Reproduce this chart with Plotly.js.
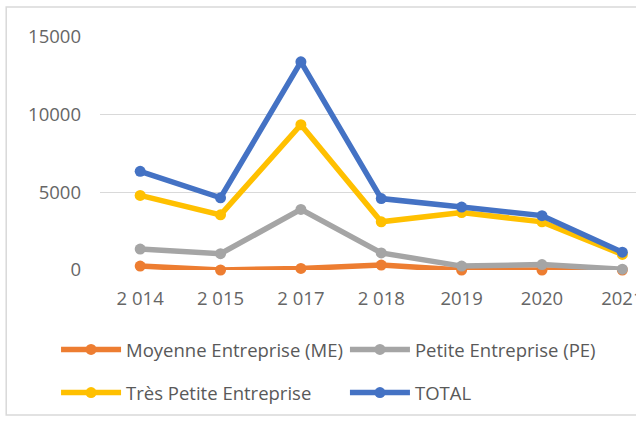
<!DOCTYPE html>
<html>
<head>
<meta charset="utf-8">
<script src="https://cdn.plot.ly/plotly-3.0.1.min.js"></script>
<style>
html,body{margin:0;padding:0;background:#fff;}
#chart{width:636px;height:426px;}
</style>
</head>
<body>
<div id="chart"></div>
<script>
var years = ["2 014", "2 015", "2 017", "2 018", "2019", "2020", "2021"];
var moyenne = [250, 0, 100, 320, 0, 0, 0];
var petite = [1350, 1050, 3900, 1100, 250, 350, 50];
var tresPetite = [4800, 3550, 9350, 3100, 3700, 3100, 1000];
var total = [6350, 4650, 13400, 4600, 4050, 3500, 1150];
var yTicks = [0, 5000, 10000, 15000];

var names = ["Moyenne Entreprise (ME)", "Petite Entreprise (PE)", "Très Petite Entreprise", "TOTAL"];
var colors = ["#ED7D31", "#A5A5A5", "#FFC000", "#4472C4"];
var series = [moyenne, petite, tresPetite, total];
var legends = ["legend", "legend2", "legend3", "legend4"];

var traces = series.map(function (vals, i) {
  return {
    type: "scatter",
    mode: "lines+markers",
    x: years,
    y: vals,
    name: names[i],
    legend: legends[i],
    cliponaxis: false,
    line: {color: colors[i], width: 5.5},
    marker: {color: colors[i], size: 11}
  };
});

var fs = 18.5;
var font = {family: "Open Sans, sans-serif", size: fs, color: "#595959"};
function leg(x, y) {
  return {
    orientation: "h",
    xanchor: "left",
    yanchor: "middle",
    x: x, y: y,
    itemwidth: 60,
    font: font,
    bgcolor: "rgba(0,0,0,0)"
  };
}

var layout = {
  width: 636,
  height: 426,
  margin: {l: 100, r: 0, t: 37, b: 156},
  paper_bgcolor: "#fff",
  plot_bgcolor: "#fff",
  font: font,
  showlegend: true,
  xaxis: {
    type: "category",
    range: [-0.5, 6.17],
    showgrid: false,
    zeroline: false,
    showline: false,
    ticks: "",
    ticklabelstandoff: 15,
    tickfont: {family: "Open Sans, sans-serif", size: fs, color: "#666"}
  },
  yaxis: {
    range: [0, 15000],
    tickvals: yTicks,
    tickformat: "d",
    showgrid: true,
    gridcolor: "#d9d9d9",
    gridwidth: 1.5,
    zeroline: false,
    showline: false,
    ticks: "",
    ticklabelstandoff: 18,
    tickfont: {family: "Open Sans, sans-serif", size: fs, color: "#666"}
  },
  legend: leg(-0.082, -0.343),
  legend2: leg(0.457, -0.343),
  legend3: leg(-0.082, -0.528),
  legend4: leg(0.457, -0.528),
  shapes: [{
    type: "rect",
    xref: "paper", yref: "paper",
    x0: -0.175, x1: 1.05, y0: -0.622, y1: 1.129,
    line: {color: "#d9d9d9", width: 1.5},
    fillcolor: "rgba(0,0,0,0)",
    layer: "below"
  }]
};

Plotly.newPlot("chart", traces, layout, {displayModeBar: false, staticPlot: true});
</script>
</body>
</html>
